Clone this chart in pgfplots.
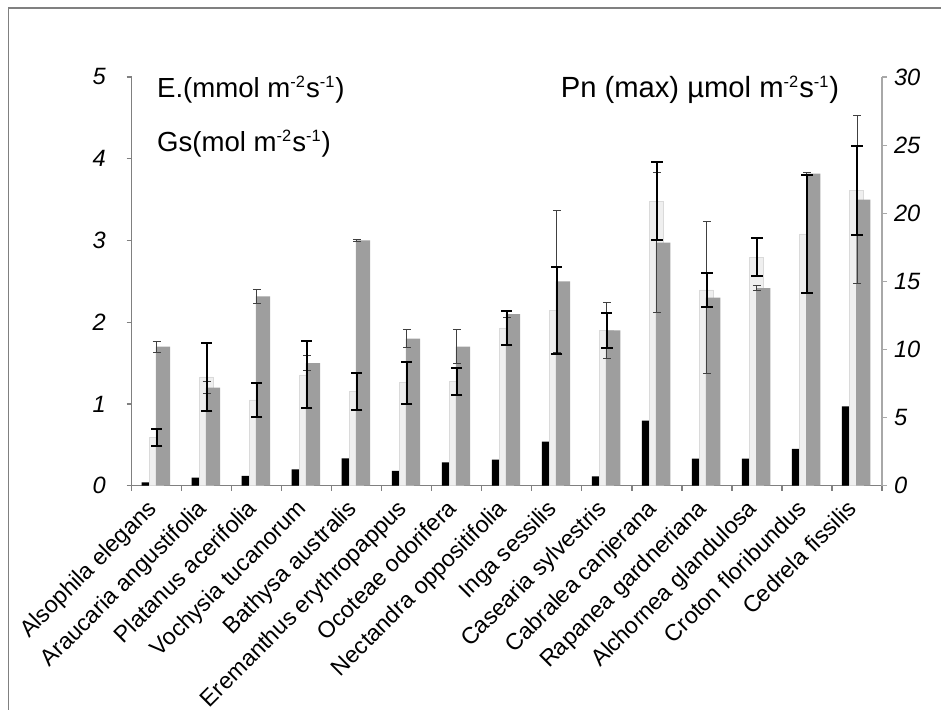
\documentclass[border=0pt]{standalone}
\usepackage{pgfplots}
\pgfplotsset{compat=1.18}
\usepackage{pgfplotstable}
\usepackage{fontspec}
\setmainfont{Liberation Sans}

\definecolor{darkbar}{HTML}{9E9E9E}
\definecolor{lightbar}{HTML}{EFEFEF}
\definecolor{lightedge}{HTML}{DADADA}
\definecolor{axgray}{HTML}{808080}
\definecolor{axlight}{HTML}{A8A8A8}

\pgfplotstableread{
x  Gs    Gserr  E      Eerr   Pn     Pnerr
0  0.04  0.005  0.59   0.105  10.2   0.39
1  0.10  0.03   1.33   0.415  7.2    0.46
2  0.12  0.01   1.05   0.21   13.9   0.53
3  0.20  0.01   1.355  0.41   9.0    0.56
4  0.335 0.01   1.15   0.225  18.0   0.05
5  0.18  0.01   1.26   0.255  10.8   0.64
6  0.285 0.053  1.28   0.165  10.2   1.25
7  0.32  0.098  1.93   0.205  12.6   0.26
8  0.54  0.06   2.14   0.53   15.0   5.2
9  0.115 0.078  1.9    0.215  11.4   2.07
10 0.795 0.906  3.48   0.48   17.85  5.14
11 0.33  0.025  2.395  0.205  13.8   5.58
12 0.33  0.025  2.795  0.235  14.5   0.17
13 0.45  0.037  3.08   0.72   22.9   0.1
14 0.97  0.13   3.61   0.54   21.0   6.14
}\datatable

\pgfplotsset{
  base/.style={
    at={(65.85pt,112.15pt)}, anchor=south west,
    scale only axis, width=375.15pt, height=204.35pt,
    xmin=-0.5, xmax=14.5,
  },
}
\newcommand{\supx}[1]{\textsuperscript{\fontsize{8.2}{9}\selectfont #1}}

\begin{document}
\begin{tikzpicture}[x=1pt,y=1pt]
\useasboundingbox (0,0) rectangle (470.5,355);
\draw[axgray, line width=0.9pt] (4.2,0) -- (4.2,350.8) -- (470.5,350.8);

% left axis: Gs and E
\begin{axis}[base,
  ymin=0, ymax=5,
  axis x line*=bottom, axis y line*=left,
  axis line style={-, draw=axgray, line width=0.6pt},
  tick align=outside,
  ytick={0,1,2,3,4,5},
  major tick length=2.5pt, minor tick length=2.6pt,
  xtick={0,...,14},
  minor xtick={-0.5,0.5,...,14.5},
  major x tick style={draw=none},
  minor x tick style={draw=axgray, line width=0.6pt},
  y tick style={draw=axgray, line width=0.6pt},
  /pgf/number format/assume math mode=true,
  yticklabel style={font=\fontsize{11.8}{14}\selectfont\itshape, xshift=-7pt},
  xticklabels={Alsophila elegans, Araucaria angustifolia, Platanus acerifolia, Vochysia tucanorum, Bathysa australis, Eremanthus erythropappus, Ocoteae odorifera, Nectandra oppositifolia, Inga sessilis, Casearia sylvestris, Cabralea canjerana, Rapanea gardneriana, Alchornea glandulosa, Croton floribundus, Cedrela fissilis},
  xticklabel style={xshift=-5.5pt, yshift=-3.5pt, rotate=45, anchor=north east, inner sep=0pt, font=\fontsize{11.6}{14}\selectfont},
]
\addplot[ybar, bar width=0.146, bar shift=-0.228, fill=black, draw=none,
  error bars/.cd, y dir=plus, y explicit,
  error bar style={draw=black, line width=0.5pt},
  error mark options={rotate=90, draw=black, line width=0.5pt, mark size=1.6pt}]
  table[x=x, y=Gs, y error=Gserr]{\datatable};
\addplot[ybar, bar width=0.28, bar shift=-0.008, fill=lightbar, draw=lightedge, line width=0.3pt]
  table[x=x, y=E]{\datatable};
\end{axis}

% right axis: Pn
\begin{axis}[base,
  ymin=0, ymax=30,
  axis x line=none, axis y line*=right,
  axis line style={-, draw=axlight, line width=0.6pt},
  tick align=outside,
  ytick={0,5,...,30},
  major tick length=2.5pt,
  y tick style={draw=axlight, line width=0.6pt},
  /pgf/number format/assume math mode=true,
  yticklabel style={font=\fontsize{11.8}{14}\selectfont\itshape},
]
\addplot[ybar, bar width=0.286, bar shift=0.124, fill=darkbar, draw=none,
  error bars/.cd, y dir=both, y explicit,
  error bar style={draw=black!75, line width=0.5pt},
  error mark options={rotate=90, draw=black!75, line width=0.5pt, mark size=2pt}]
  table[x=x, y=Pn, y error=Pnerr]{\datatable};
\end{axis}

% overlay: E error bars on top
\begin{axis}[base, ymin=0, ymax=5, hide axis]
\addplot[ybar, bar width=0.28, bar shift=-0.008, fill=none, draw=none,
  error bars/.cd, y dir=both, y explicit,
  error bar style={draw=black, line width=1pt},
  error mark options={rotate=90, draw=black, line width=1pt, mark size=2.8pt}]
  table[x=x, y=E, y error=Eerr]{\datatable};
\end{axis}

\node[anchor=base west, inner sep=0pt, font=\fontsize{13.8}{16}\selectfont] at (78.35,306) {E.(mmol m\supx{-2}s\supx{-1})};
\node[anchor=base west, inner sep=0pt, font=\fontsize{13.8}{16}\selectfont] at (78.35,279) {Gs(mol m\supx{-2}s\supx{-1})};
\node[anchor=base west, inner sep=0pt, font=\fontsize{14.6}{17}\selectfont] at (280.2,306) {Pn (max) µmol m\supx{-2}s\supx{-1})};
\end{tikzpicture}
\end{document}
